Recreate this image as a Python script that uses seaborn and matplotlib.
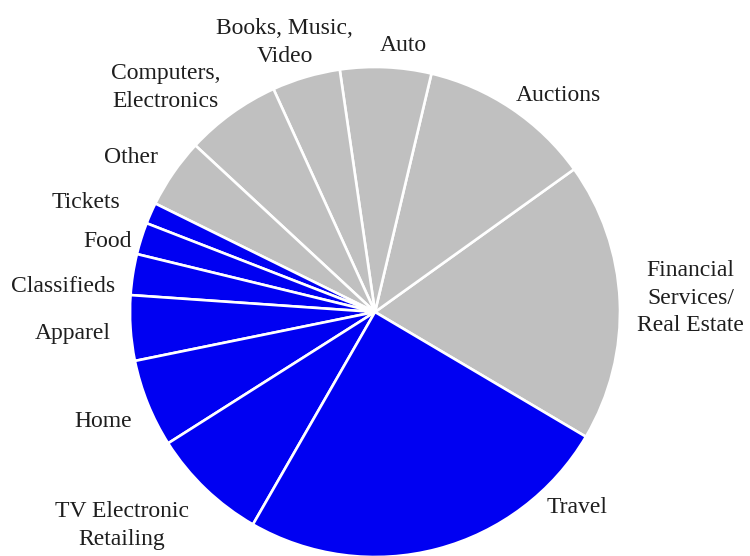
import matplotlib
matplotlib.use("Agg")
import matplotlib.pyplot as plt
import numpy as np
import seaborn as sns

# Share of online spending by category (percent), listed counterclockwise
categories = [
    "Financial\nServices/\nReal Estate", "Auctions", "Auto",
    "Books, Music,\nVideo", "Computers,\nElectronics", "Other",
    "Tickets", "Food", "Classifieds", "Apparel", "Home",
    "TV Electronic\nRetailing", "Travel",
]
shares = [18.4, 11.4, 6.0, 4.5, 6.3, 4.6, 1.4, 2.1, 2.7, 4.3, 5.8, 7.7, 24.8]
groups = ["grey"] * 6 + ["blue"] * 7

# Label placement: (angle in degrees, distance in pie radii) of each label centre
label_places = [
    (2.5, 1.29), (49.7, 1.16), (84.0, 1.094), (108.5, 1.16), (133.0, 1.253),
    (147.7, 1.18), (159.3, 1.26), (165.3, 1.127), (175.4, 1.278),
    (184.0, 1.237), (202.0, 1.196), (220.2, 1.351), (316.0, 1.147),
]

sns.set_theme(style="white")
plt.rcParams["font.family"] = ["Liberation Serif", "DejaVu Serif"]

group_colors = {"grey": "#c0c0c0", "blue": "#0000f2"}
colors = [group_colors[g] for g in groups]

fig = plt.figure(figsize=(7.5, 5.56), dpi=100)
ax = fig.add_axes([0, 0, 1, 1])

ax.pie(
    shares,
    colors=colors,
    startangle=-30.6,
    counterclock=True,
    radius=1.0,
    wedgeprops=dict(edgecolor="white", linewidth=1.9),
)

for text, (ang, dist) in zip(categories, label_places):
    a = np.deg2rad(ang)
    ax.text(dist * np.cos(a), dist * np.sin(a), text,
            ha="center", va="center", multialignment="center",
            fontsize=17, color="#1e1e1e", linespacing=1.4)

# Pie centre sits at (375, 312) px with a 245 px radius
r_px = 245.0
ax.set_xlim(-375 / r_px, 375 / r_px)
ax.set_ylim((312 - 556) / r_px, 312 / r_px)
ax.set_aspect("equal")
ax.axis("off")

fig.savefig("out.png", dpi=100, facecolor="white")
